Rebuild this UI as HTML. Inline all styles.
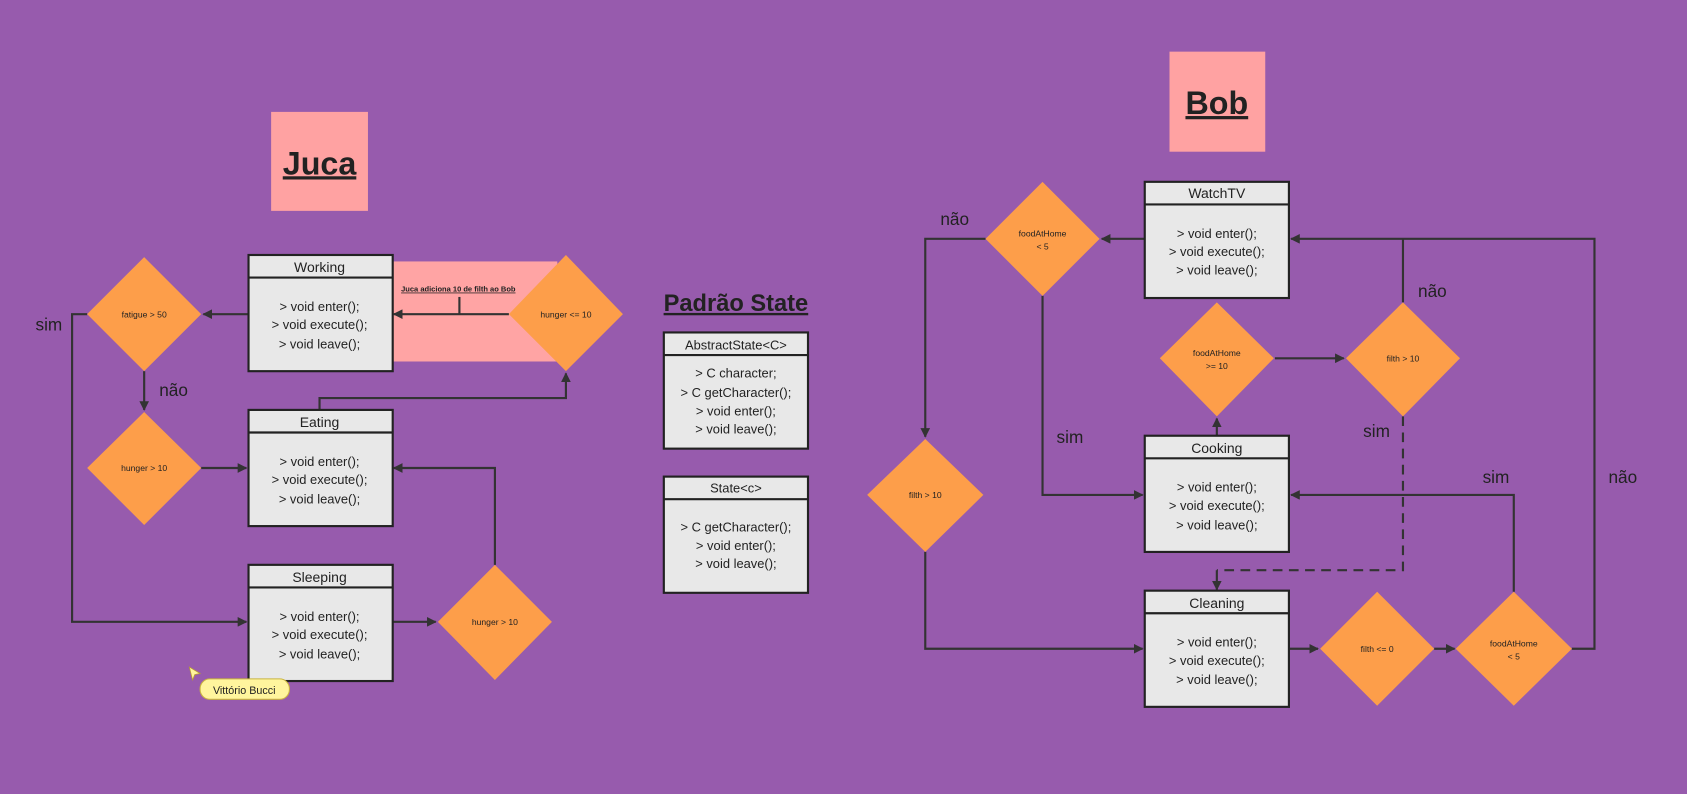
<!DOCTYPE html>
<html><head><meta charset="utf-8"><style>
html,body{margin:0;padding:0;background:#975BAD;}
svg{display:block}
text{font-family:"Liberation Sans",sans-serif;fill:#222}
</style></head><body>
<svg width="1687" height="794" viewBox="0 0 1568 738" preserveAspectRatio="none" xmlns="http://www.w3.org/2000/svg">
<defs>
<marker id="a" viewBox="0 0 10 10" refX="9" refY="5" markerWidth="4.5" markerHeight="4.5" orient="auto-start-reverse"><path d="M0,0 L10,5 L0,10 z" fill="#333"/></marker>
<symbol id="box" viewBox="0 0 134 108" width="134" height="108" overflow="visible">
<rect x="0" y="0" width="134" height="108" fill="#e8e8e8" stroke="#222" stroke-width="2"/>
<line x1="0" y1="21" x2="134" y2="21" stroke="#222" stroke-width="2"/>
</symbol>
</defs>
<rect width="1568" height="738" fill="#975BAD"/>
<rect x="364" y="243" width="154" height="93" fill="#FFA4A4"/>
<rect x="252" y="104" width="90" height="92" fill="#FFA2A2"/>
<text x="297" y="162" font-size="30" font-weight="bold" text-anchor="middle" text-decoration="underline">Juca</text>
<rect x="1087" y="48" width="89" height="93" fill="#FFA2A2"/>
<text x="1131" y="106" font-size="30" font-weight="bold" text-anchor="middle" text-decoration="underline">Bob</text>
<text x="684" y="289" font-size="22" font-weight="bold" text-anchor="middle" text-decoration="underline">Padrão State</text>

<g fill="none" stroke="#333" stroke-width="2">
<line x1="473" y1="292" x2="366" y2="292" marker-end="url(#a)"/>
<line x1="427" y1="276" x2="427" y2="292"/>
<line x1="231" y1="292" x2="189" y2="292" marker-end="url(#a)"/>
<polyline points="81,292 67,292 67,578 229,578" marker-end="url(#a)"/>
<line x1="134" y1="345" x2="134" y2="381" marker-end="url(#a)"/>
<line x1="187" y1="435" x2="229" y2="435" marker-end="url(#a)"/>
<polyline points="297,381 297,370 526,370 526,347" marker-end="url(#a)"/>
<line x1="364" y1="578" x2="405" y2="578" marker-end="url(#a)"/>
<polyline points="460,525 460,435 366,435" marker-end="url(#a)"/>
<line x1="1064" y1="222" x2="1024" y2="222" marker-end="url(#a)"/>
<polyline points="916,222 860,222 860,406" marker-end="url(#a)"/>
<polyline points="860,513 860,603 1062,603" marker-end="url(#a)"/>
<polyline points="969,275 969,460 1062,460" marker-end="url(#a)"/>
<line x1="1131" y1="405" x2="1131" y2="389" marker-end="url(#a)"/>
<line x1="1185" y1="333" x2="1249" y2="333" marker-end="url(#a)"/>
<line x1="1304" y1="281" x2="1304" y2="222"/>
<polyline points="1461,603 1482,603 1482,222 1200,222" marker-end="url(#a)"/>
<polyline points="1304,387 1304,530 1131,530" stroke-dasharray="9,6"/>
<line x1="1131" y1="530" x2="1131" y2="548" marker-end="url(#a)"/>
<line x1="1198" y1="603" x2="1225" y2="603" marker-end="url(#a)"/>
<line x1="1333" y1="603" x2="1352" y2="603" marker-end="url(#a)"/>
<polyline points="1407,550 1407,460 1200,460" marker-end="url(#a)"/>
</g>

<text x="426" y="271" font-size="7" font-weight="bold" text-anchor="middle" text-decoration="underline">Juca adiciona 10 de filth ao Bob</text>

<g fill="#FD9E4A">
<polygon points="134,239 187,292 134,345 81,292"/>
<polygon points="134,383 187,435 134,488 81,435"/>
<polygon points="526,237 579,292 526,345 473,292"/>
<polygon points="460,525 513,578 460,632 407,578"/>
<polygon points="969,169 1022,222 969,275 916,222"/>
<polygon points="860,408 914,460 860,513 806,460"/>
<polygon points="1131,281 1184,333 1131,387 1078,333"/>
<polygon points="1304,281 1357,333 1304,387 1251,333"/>
<polygon points="1280,550 1333,603 1280,656 1227,603"/>
<polygon points="1407,550 1461,603 1407,656 1353,603"/>
</g>
<g font-size="8" text-anchor="middle">
<text x="134" y="295">fatigue &gt; 50</text>
<text x="134" y="438">hunger &gt; 10</text>
<text x="526" y="295">hunger &lt;= 10</text>
<text x="460" y="581">hunger &gt; 10</text>
<text x="969" y="220">foodAtHome</text><text x="969" y="232">&lt; 5</text>
<text x="860" y="463">filth &gt; 10</text>
<text x="1131" y="331">foodAtHome</text><text x="1131" y="343">&gt;= 10</text>
<text x="1304" y="336">filth &gt; 10</text>
<text x="1280" y="606">filth &lt;= 0</text>
<text x="1407" y="601">foodAtHome</text><text x="1407" y="613">&lt; 5</text>
</g>

<g font-size="16">
<text x="33" y="307">sim</text>
<text x="148" y="368">não</text>
<text x="874" y="209">não</text>
<text x="982" y="412">sim</text>
<text x="1318" y="276">não</text>
<text x="1267" y="406">sim</text>
<text x="1378" y="449">sim</text>
<text x="1495" y="449">não</text>
</g>

<g font-size="12" text-anchor="middle">
<use href="#box" x="231" y="237"/>
<text x="297" y="253" font-size="13">Working</text>
<text x="297" y="289">&gt; void enter();</text><text x="297" y="306">&gt; void execute();</text><text x="297" y="324">&gt; void leave();</text>
<use href="#box" x="231" y="381"/>
<text x="297" y="397" font-size="13">Eating</text>
<text x="297" y="433">&gt; void enter();</text><text x="297" y="450">&gt; void execute();</text><text x="297" y="468">&gt; void leave();</text>
<use href="#box" x="231" y="525"/>
<text x="297" y="541" font-size="13">Sleeping</text>
<text x="297" y="577">&gt; void enter();</text><text x="297" y="594">&gt; void execute();</text><text x="297" y="612">&gt; void leave();</text>

<use href="#box" x="617" y="309"/>
<text x="684" y="325" font-size="12">AbstractState&lt;C&gt;</text>
<text x="684" y="351">&gt; C character;</text><text x="684" y="369">&gt; C getCharacter();</text><text x="684" y="386">&gt; void enter();</text><text x="684" y="403">&gt; void leave();</text>
<use href="#box" x="617" y="443"/>
<text x="684" y="458" font-size="12">State&lt;c&gt;</text>
<text x="684" y="494">&gt; C getCharacter();</text><text x="684" y="511">&gt; void enter();</text><text x="684" y="528">&gt; void leave();</text>

<use href="#box" x="1064" y="169"/>
<text x="1131" y="184" font-size="13">WatchTV</text>
<text x="1131" y="221">&gt; void enter();</text><text x="1131" y="238">&gt; void execute();</text><text x="1131" y="255">&gt; void leave();</text>
<use href="#box" x="1064" y="405"/>
<text x="1131" y="421" font-size="13">Cooking</text>
<text x="1131" y="457">&gt; void enter();</text><text x="1131" y="474">&gt; void execute();</text><text x="1131" y="492">&gt; void leave();</text>
<use href="#box" x="1064" y="549"/>
<text x="1131" y="565" font-size="13">Cleaning</text>
<text x="1131" y="601">&gt; void enter();</text><text x="1131" y="618">&gt; void execute();</text><text x="1131" y="636">&gt; void leave();</text>
</g>

<path d="M176,620 L186,626 L181,627 L179,632 z" fill="#fff59d" stroke="#b8a030" stroke-width="0.7"/>
<rect x="186" y="631" width="83" height="19" rx="9" fill="#fff59d" stroke="#c9b440" stroke-width="1"/>
<text x="227" y="645" font-size="10" text-anchor="middle">Vittório Bucci</text>
</svg>
</body></html>
